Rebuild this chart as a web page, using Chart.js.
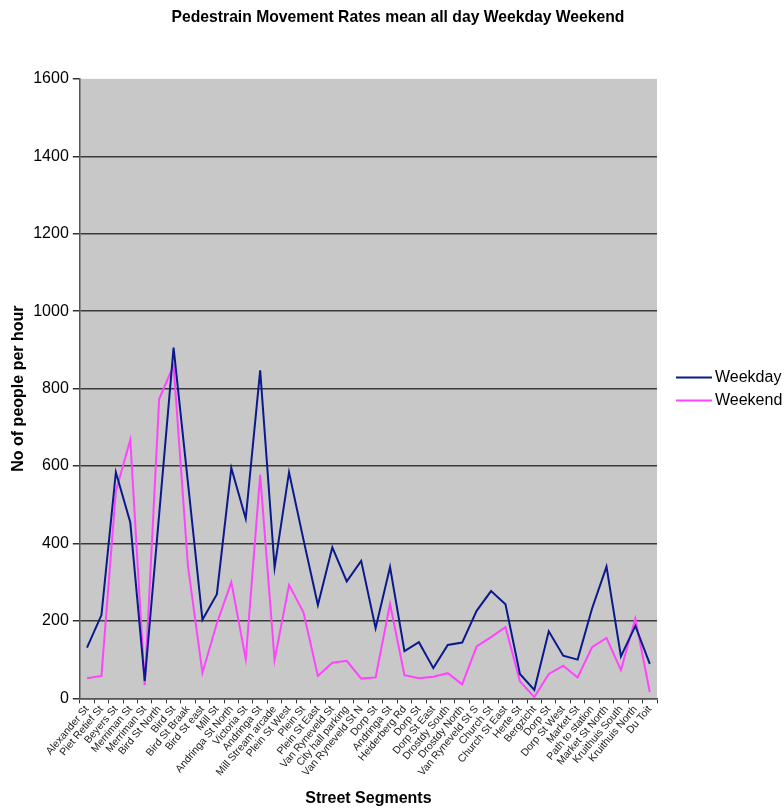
<!DOCTYPE html>
<html>
<head>
<meta charset="utf-8">
<script src="https://cdn.jsdelivr.net/npm/chart.js@4/dist/chart.umd.min.js"></script>
<style>
  html, body { margin: 0; padding: 0; background: #ffffff; }
  #wrap { width: 784px; height: 810px; }
</style>
</head>
<body>
<div id="wrap"><canvas id="c" width="784" height="810"></canvas></div>
<script>
// Street segments surveyed
const segments = [
  "Alexander St", "Piet Retief St", "Beyers St", "Merriman St", "Merriman St",
  "Bird St North", "Bird St", "Bird St Braak", "Bird St east", "Mill St",
  "Andringa St North", "Victoria St", "Andringa St", "Mill Stream arcade", "Plein St West",
  "Plein St", "Plein St East", "Van Ryneveld St", "City hall parking", "Van Ryneveld St N",
  "Dorp St", "Andringa St", "Heiderberg Rd", "Dorp St", "Dorp St East",
  "Drostdy South", "Drostdy North", "Van Ryneveld St S", "Church St", "Church St East",
  "Herte St", "Bergzicht", "Dorp St", "Dorp St West", "Market St",
  "Path to station", "Market St North", "Kruithuis South", "Kruithuis North", "Du Toit"
];

// Mean pedestrians per hour, all day
const weekday = [
  131, 215, 584, 454, 45, 475, 906, 555, 203, 269,
  595, 464, 847, 338, 584, 410, 241, 390, 302, 355,
  181, 339, 122, 145, 78, 138, 144, 226, 277, 243,
  63, 22, 173, 110, 100, 232, 340, 108, 187, 89
];
const weekend = [
  52, 58, 535, 668, 34, 773, 860, 340, 66, 194,
  300, 101, 577, 99, 293, 222, 58, 92, 97, 51,
  54, 244, 60, 52, 56, 65, 36, 134, 158, 184,
  44, 3, 63, 84, 54, 132, 156, 73, 206, 16
];

const yTicks = { min: 0, max: 1600, step: 200 };

const FONT = "'Liberation Sans', Arial, sans-serif";
const LEGEND_SPACE = 127;

// grey plot background
const plotBackground = {
  id: 'plotBackground',
  beforeDraw(chart) {
    const { ctx, chartArea: a } = chart;
    ctx.save();
    ctx.fillStyle = '#c8c8c8';
    ctx.fillRect(a.left, a.top, a.right - a.left, a.bottom - a.top);
    ctx.restore();
  }
};

// line-sample legend to the right of the plot
const sideLegend = {
  id: 'sideLegend',
  afterDraw(chart) {
    const { ctx, chartArea: a } = chart;
    const sets = chart.data.datasets;
    const x0 = a.right + 19, lineLen = 36, rowGap = 23;
    const yMid = (a.top + a.bottom) / 2 - rowGap * (sets.length - 1) / 2;
    ctx.save();
    ctx.font = '16px ' + FONT;
    ctx.textAlign = 'left';
    ctx.textBaseline = 'middle';
    sets.forEach((ds, i) => {
      const y = Math.round(yMid + i * rowGap) + 0.5;
      ctx.strokeStyle = ds.borderColor;
      ctx.lineWidth = 2;
      ctx.beginPath();
      ctx.moveTo(x0, y);
      ctx.lineTo(x0 + lineLen, y);
      ctx.stroke();
      ctx.fillStyle = '#000';
      ctx.fillText(ds.label, x0 + lineLen + 3, y);
    });
    ctx.restore();
  }
};

new Chart(document.getElementById('c'), {
  type: 'line',
  data: {
    labels: segments,
    datasets: [
      { label: 'Weekday', data: weekday, borderColor: '#0a1a8c', backgroundColor: '#0a1a8c',
        borderWidth: 2, pointRadius: 0, tension: 0, fill: false },
      { label: 'Weekend', data: weekend, borderColor: '#ff44ff', backgroundColor: '#ff44ff',
        borderWidth: 2, pointRadius: 0, tension: 0, fill: false }
    ]
  },
  options: {
    responsive: false,
    animation: false,
    devicePixelRatio: 1,
    layout: { padding: { left: 12, right: 0, top: 0, bottom: 2 } },
    plugins: {
      title: {
        display: true,
        text: 'Pedestrain Movement Rates mean all day Weekday Weekend',
        color: '#000',
        font: { family: FONT, size: 15.7, weight: 'bold' },
        padding: { top: 8, bottom: 52 }
      },
      legend: { display: false },
      tooltip: { enabled: false }
    },
    scales: {
      x: {
        type: 'category',
        offset: true,
        border: { display: true, color: '#555', width: 1.5 },
        grid: { display: true, offset: true, drawOnChartArea: false, drawTicks: true,
                tickLength: 5, color: '#333' },
        ticks: {
          color: '#222', autoSkip: false, maxRotation: 50, minRotation: 50,
          padding: 0, font: { family: FONT, size: 10.5 }
        },
        title: {
          display: true, text: 'Street Segments', color: '#000',
          font: { family: FONT, size: 16, weight: 'bold' }, padding: { top: 10, bottom: 0 }
        }
      },
      y: {
        min: yTicks.min, max: yTicks.max,
        border: { display: true, color: '#555', width: 1.5 },
        grid: {
          color: (c) => (c.tick && c.tick.value === yTicks.max) ? 'rgba(0,0,0,0)' : '#3a3a3a',
          lineWidth: 1.5, drawTicks: true, tickLength: 7, tickColor: '#333'
        },
        ticks: {
          stepSize: yTicks.step, color: '#000', padding: 4,
          font: { family: FONT, size: 16 },
          callback: (v) => String(v)
        },
        title: {
          display: true, text: 'No of people per hour', color: '#000',
          font: { family: FONT, size: 16, weight: 'bold' }, padding: { top: -3, bottom: 1 }
        }
      },
      // empty right-hand strip that holds the legend
      side: {
        type: 'linear',
        position: 'right',
        display: true,
        grid: { display: false, drawTicks: false },
        border: { display: false },
        ticks: { display: false },
        afterFit: (s) => { s.width = LEGEND_SPACE; }
      }
    }
  },
  plugins: [plotBackground, sideLegend]
});
</script>
</body>
</html>
